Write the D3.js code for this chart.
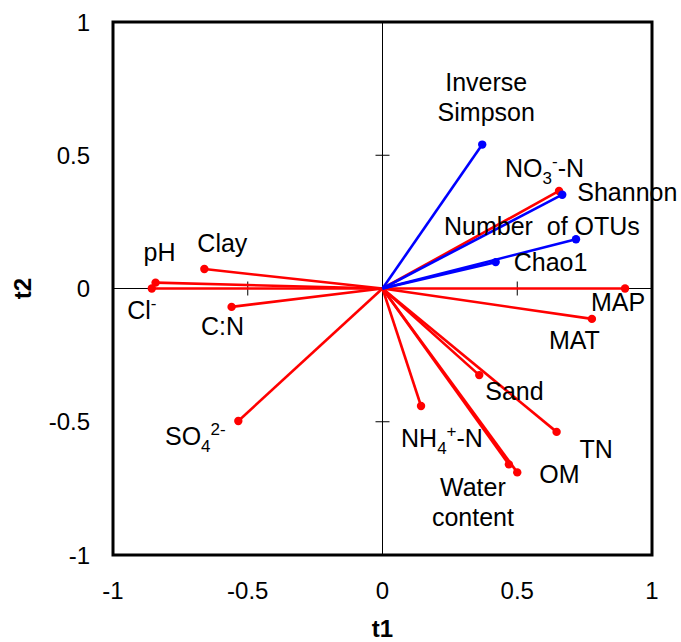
<!DOCTYPE html>
<html>
<head>
<meta charset="utf-8">
<script src="https://cdn.jsdelivr.net/npm/d3@7"></script>
<style>
  body { margin: 0; background: #fff; }
  text { font-family: "Liberation Sans", Arial, sans-serif; fill: #000; }
</style>
</head>
<body>
<div id="chart"></div>
<script>
// soil / climate variables (red vectors)
var envNames = ["pH", "Cl^{-}", "Clay", "C:N", "SO_{4}^{2-}", "MAP", "MAT", "Sand",
                "NH_{4}^{+}-N", "TN", "OM", "Water\ncontent", "NO_{3}^{-}-N"];
var envT1 = [-0.842, -0.856, -0.661, -0.56, -0.535, 0.90, 0.777, 0.359, 0.143, 0.646, 0.50, 0.469, 0.655];
var envT2 = [0.022, 0.0, 0.073, -0.069, -0.497, 0.0, -0.114, -0.325, -0.441, -0.538, -0.69, -0.66, 0.366];

// diversity indices (blue vectors)
var divNames = ["Inverse\nSimpson", "Shannon", "Number  of OTUs", "Chao1"];
var divT1 = [0.370, 0.667, 0.718, 0.42];
var divT2 = [0.540, 0.352, 0.185, 0.099];

var tickValues = [-1, -0.5, 0, 0.5, 1];

// label placement relative to the arrow tip (px)
var labelPos = {
  "pH": [4, -30, "middle"],
  "Cl^{-}": [-10, 22, "middle"],
  "Clay": [18, -26, "middle"],
  "C:N": [-9, 19, "middle"],
  "SO_{4}^{2-}": [-43, 15, "middle"],
  "MAP": [-34, 14, "start"],
  "MAT": [-43, 21, "start"],
  "Sand": [6, 16, "start"],
  "NH_{4}^{+}-N": [-20, 32, "start"],
  "TN": [23, 17, "start"],
  "OM": [22, 2, "start"],
  "Water\ncontent": [-36, 23, "middle"],
  "NO_{3}^{-}-N": [-54, -23, "start"],
  "Inverse\nSimpson": [4, -62, "middle"],
  "Shannon": [15, -2, "start"],
  "Number  of OTUs": [-132, -13, "start"],
  "Chao1": [18, 0, "start"]
};

var width = 681, height = 642;
var plotL = 113, plotR = 652, plotT = 22, plotB = 555;
var fs = 25, lineH = 30;

var svg = d3.select('#chart')
  .append('svg')
  .attr('width', width)
  .attr('height', height);

var x = d3.scaleLinear().domain([-1, 1]).range([plotL, plotR]);
var y = d3.scaleLinear().domain([-1, 1]).range([plotB, plotT]);

// axes through the origin
svg.append('line')
  .attr('x1', plotL).attr('x2', plotR)
  .attr('y1', y(0)).attr('y2', y(0))
  .attr('stroke', '#000').attr('stroke-width', 1);
svg.append('line')
  .attr('x1', x(0)).attr('x2', x(0))
  .attr('y1', plotT).attr('y2', plotB)
  .attr('stroke', '#000').attr('stroke-width', 1);

var inner = tickValues.filter(function(d) { return d != 0 && Math.abs(d) < 1; });
svg.selectAll('.xtick').data(inner).enter().append('line')
  .attr('x1', function(d) { return x(d); })
  .attr('x2', function(d) { return x(d); })
  .attr('y1', y(0) - 7).attr('y2', y(0) + 7)
  .attr('stroke', '#000').attr('stroke-width', 1);
svg.selectAll('.ytick').data(inner).enter().append('line')
  .attr('y1', function(d) { return y(d); })
  .attr('y2', function(d) { return y(d); })
  .attr('x1', x(0) - 7).attr('x2', x(0) + 7)
  .attr('stroke', '#000').attr('stroke-width', 1);

// tick labels
svg.selectAll('.xlab').data(tickValues).enter().append('text')
  .attr('x', function(d) { return x(d); })
  .attr('y', 599)
  .attr('text-anchor', 'middle')
  .style('font-size', '24px')
  .text(function(d) { return d; });
svg.selectAll('.ylab').data(tickValues).enter().append('text')
  .attr('x', 90)
  .attr('y', function(d) { return y(d) + 8.5; })
  .attr('text-anchor', 'end')
  .style('font-size', '24px')
  .text(function(d) { return d; });

svg.append('text')
  .attr('x', x(0)).attr('y', 637)
  .attr('text-anchor', 'middle')
  .style('font-size', '24px').style('font-weight', 'bold')
  .text('t1');
svg.append('text')
  .attr('transform', 'translate(31,' + y(0) + ')rotate(-90)')
  .attr('text-anchor', 'middle')
  .style('font-size', '24px').style('font-weight', 'bold')
  .text('t2');

function vectors(names, t1, t2, color) {
  var data = names.map(function(n, i) { return {name: n, t1: t1[i], t2: t2[i]}; });
  var g = svg.append('g');
  g.selectAll('line').data(data).enter().append('line')
    .attr('x1', x(0)).attr('y1', y(0))
    .attr('x2', function(d) { return x(d.t1); })
    .attr('y2', function(d) { return y(d.t2); })
    .attr('stroke', color).attr('stroke-width', 2.6);
  g.selectAll('circle').data(data).enter().append('circle')
    .attr('cx', function(d) { return x(d.t1); })
    .attr('cy', function(d) { return y(d.t2); })
    .attr('r', 4.2)
    .attr('fill', color);
  return data;
}

// write a label with _{sub} and ^{sup} pieces
function richText(sel, str) {
  var parts = str.split(/(_\{[^}]*\}|\^\{[^}]*\})/);
  var shift = 0;
  parts.forEach(function(p) {
    if (p == "") return;
    var t, target, size = fs;
    if (p[0] == "_" && p[1] == "{") { target = 7; size = 17; t = p.slice(2, -1); }
    else if (p[0] == "^" && p[1] == "{") { target = -10; size = 17; t = p.slice(2, -1); }
    else { target = 0; t = p; }
    sel.append('tspan')
      .attr('dy', target - shift)
      .style('font-size', size + 'px')
      .text(t);
    shift = target;
  });
}

function labels(data) {
  data.forEach(function(d) {
    var pos = labelPos[d.name];
    var lines = d.name.split("\n");
    lines.forEach(function(line, i) {
      var t = svg.append('text')
        .attr('x', x(d.t1) + pos[0])
        .attr('y', y(d.t2) + pos[1] + i * lineH + fs * 0.35)
        .attr('text-anchor', pos[2])
        .style('font-size', fs + 'px')
        .style('white-space', 'pre');
      richText(t, line);
    });
  });
}

var envData = vectors(envNames, envT1, envT2, '#ff0000');
var divData = vectors(divNames, divT1, divT2, '#0000ff');
labels(envData);
labels(divData);

// frame
svg.append('rect')
  .attr('x', plotL).attr('y', plotT)
  .attr('width', plotR - plotL).attr('height', plotB - plotT)
  .attr('fill', 'none')
  .attr('stroke', '#000').attr('stroke-width', 3);
</script>
</body>
</html>
